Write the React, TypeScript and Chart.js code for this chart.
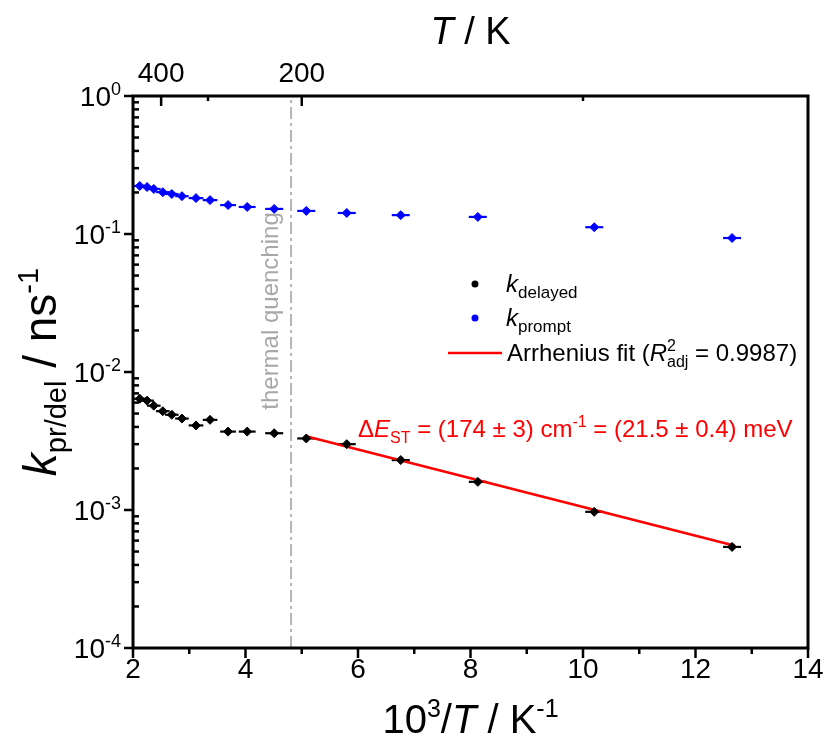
import React, { useEffect, useRef } from 'react';
import { Chart, registerables } from 'chart.js';
Chart.register(...registerables);

// ---- data ----
const invT = [2.12, 2.25, 2.37, 2.53, 2.69, 2.87, 3.12, 3.37, 3.69, 4.03, 4.51, 5.08, 5.80, 6.76, 8.13, 10.20, 12.65];
const invTErr = [0.12, 0.12, 0.12, 0.12, 0.12, 0.12, 0.13, 0.13, 0.14, 0.15, 0.16, 0.16, 0.16, 0.16, 0.16, 0.16, 0.16];
const kDelayed = [0.0064, 0.0062, 0.0057, 0.0052, 0.0049, 0.0046, 0.0041, 0.0045, 0.0037, 0.0037, 0.0036, 0.0033, 0.0030, 0.0023, 0.0016, 0.00097, 0.00054];
const kPrompt = [0.223, 0.219, 0.212, 0.201, 0.195, 0.188, 0.182, 0.176, 0.162, 0.157, 0.152, 0.147, 0.142, 0.137, 0.133, 0.112, 0.0935];
const fitX = [5.06, 12.70];
const fitY = [0.00344, 0.00055];
const quenchX = 4.81;
const xMajorTicks = [2, 4, 6, 8, 10, 12, 14];
const xMinorTicks = [3, 5, 7, 9, 11, 13];
const yDecadeExps = [0, -1, -2, -3, -4];
const topMajorT = [400, 200];
const topMinorT = [300, 100];

const SANS = '"Liberation Sans", Arial, sans-serif';
const F = (size: number, style = '') => `${style} ${size}px ${SANS}`.trim();

type Seg = { t: string; f: string; dy?: number; back?: boolean };

function richWidth(ctx: CanvasRenderingContext2D, segs: Seg[]) {
  let cursor = 0;
  let prevStart = 0;
  for (const s of segs) {
    ctx.font = s.f;
    const w = ctx.measureText(s.t).width;
    const x0 = s.back ? prevStart : cursor;
    if (!s.back) prevStart = x0;
    cursor = Math.max(cursor, x0 + w);
  }
  return cursor;
}

function drawRich(ctx: CanvasRenderingContext2D, segs: Seg[], x: number, y: number, align: 'left' | 'center' | 'right', color: string) {
  const total = richWidth(ctx, segs);
  let start = x;
  if (align === 'center') start = x - total / 2;
  if (align === 'right') start = x - total;
  let cursor = start;
  let prevStart = start;
  ctx.fillStyle = color;
  ctx.textAlign = 'left';
  for (const s of segs) {
    ctx.font = s.f;
    const w = ctx.measureText(s.t).width;
    const x0 = s.back ? prevStart : cursor;
    if (!s.back) prevStart = x0;
    ctx.fillText(s.t, x0, y + (s.dy || 0));
    cursor = Math.max(cursor, x0 + w);
  }
}

const errorBars = {
  id: 'errorBars',
  beforeDatasetsDraw(chart: any) {
    const { ctx, scales } = chart;
    const xs = scales.x;
    [0, 1].forEach((di) => {
      const meta = chart.getDatasetMeta(di);
      const color = chart.data.datasets[di].borderColor;
      ctx.save();
      ctx.strokeStyle = color;
      ctx.lineWidth = 2.2;
      meta.data.forEach((el: any, i: number) => {
        const x1 = xs.getPixelForValue(invT[i] - invTErr[i]);
        const x2 = xs.getPixelForValue(invT[i] + invTErr[i]);
        ctx.beginPath();
        ctx.moveTo(x1, el.y);
        ctx.lineTo(x2, el.y);
        ctx.stroke();
      });
      ctx.restore();
    });
  },
};

const decor = {
  id: 'decor',
  afterDraw(chart: any) {
    const { ctx, chartArea: a, scales } = chart;
    const xs = scales.x;
    const ys = scales.y;
    ctx.save();
    ctx.strokeStyle = '#000';
    ctx.lineCap = 'butt';

    // frame
    ctx.lineWidth = 3;
    ctx.strokeRect(a.left, a.top, a.right - a.left, a.bottom - a.top);

    ctx.lineWidth = 2.5;
    // bottom ticks (outward)
    xMajorTicks.forEach((v) => {
      const px = xs.getPixelForValue(v);
      ctx.beginPath(); ctx.moveTo(px, a.bottom); ctx.lineTo(px, a.bottom + 10); ctx.stroke();
    });
    xMinorTicks.forEach((v) => {
      const px = xs.getPixelForValue(v);
      ctx.beginPath(); ctx.moveTo(px, a.bottom); ctx.lineTo(px, a.bottom + 6); ctx.stroke();
    });
    // left ticks: majors outward, minors inward
    yDecadeExps.forEach((e) => {
      const py = ys.getPixelForValue(Math.pow(10, e));
      ctx.beginPath(); ctx.moveTo(a.left - 9, py); ctx.lineTo(a.left, py); ctx.stroke();
      if (e > -4) {
        for (let m = 2; m <= 9; m++) {
          const pm = ys.getPixelForValue(m * Math.pow(10, e - 1));
          ctx.beginPath(); ctx.moveTo(a.left, pm); ctx.lineTo(a.left + 6, pm); ctx.stroke();
        }
      }
    });
    // top ticks (inward), T axis
    topMajorT.forEach((T) => {
      const px = xs.getPixelForValue(1000 / T);
      ctx.beginPath(); ctx.moveTo(px, a.top); ctx.lineTo(px, a.top + 10); ctx.stroke();
    });
    topMinorT.forEach((T) => {
      const px = xs.getPixelForValue(1000 / T);
      ctx.beginPath(); ctx.moveTo(px, a.top); ctx.lineTo(px, a.top + 5); ctx.stroke();
    });

    // tick labels
    ctx.textBaseline = 'alphabetic';
    xMajorTicks.forEach((v) => {
      const px = xs.getPixelForValue(v);
      drawRich(ctx, [{ t: String(v), f: F(28) }], px, a.bottom + 30, 'center', '#000');
    });
    topMajorT.forEach((T) => {
      const px = xs.getPixelForValue(1000 / T);
      drawRich(ctx, [{ t: String(T), f: F(28) }], px, a.top - 14, 'center', '#000');
    });
    yDecadeExps.forEach((e) => {
      const py = ys.getPixelForValue(Math.pow(10, e));
      drawRich(ctx, [
        { t: '10', f: F(28) },
        { t: String(e), f: F(18), dy: -11 },
      ], a.left - 12, py + 10, 'right', '#000');
    });

    // axis titles
    const cx = (a.left + a.right) / 2;
    drawRich(ctx, [
      { t: 'T', f: F(38, 'italic') },
      { t: ' / K', f: F(38) },
    ], cx, 44, 'center', '#000');
    drawRich(ctx, [
      { t: '10', f: F(40) },
      { t: '3', f: F(25), dy: -16 },
      { t: '/', f: F(40) },
      { t: 'T', f: F(40, 'italic') },
      { t: ' / K', f: F(40) },
      { t: '-1', f: F(25), dy: -16 },
    ], cx, 733, 'center', '#000');
    ctx.save();
    ctx.translate(56, (a.top + a.bottom) / 2);
    ctx.rotate(-Math.PI / 2);
    drawRich(ctx, [
      { t: 'k', f: F(46, 'italic') },
      { t: 'pr/del', f: F(29), dy: 10 },
      { t: ' / ns', f: F(46) },
      { t: '-1', f: F(29), dy: -18 },
    ], 0, 0, 'center', '#000');
    ctx.restore();

    // thermal quenching label
    ctx.save();
    ctx.translate(xs.getPixelForValue(quenchX) - 20, 311);
    ctx.rotate(-Math.PI / 2);
    ctx.textBaseline = 'middle';
    drawRich(ctx, [{ t: 'thermal quenching', f: F(24) }], 0, 0, 'center', '#a8a8a8');
    ctx.restore();

    // legend
    ctx.textBaseline = 'alphabetic';
    const lgX = 475;
    const rows = [284, 318, 353];
    ctx.fillStyle = '#000';
    ctx.beginPath(); ctx.arc(lgX, rows[0], 3.5, 0, Math.PI * 2); ctx.fill();
    ctx.fillStyle = '#0000ff';
    ctx.beginPath(); ctx.arc(lgX, rows[1], 3.5, 0, Math.PI * 2); ctx.fill();
    drawRich(ctx, [
      { t: 'k', f: F(24, 'italic') },
      { t: 'delayed', f: F(17), dy: 6 },
    ], 506, rows[0] + 8, 'left', '#000');
    drawRich(ctx, [
      { t: 'k', f: F(24, 'italic') },
      { t: 'prompt', f: F(17), dy: 6 },
    ], 506, rows[1] + 8, 'left', '#000');
    ctx.strokeStyle = '#ff0000';
    ctx.lineWidth = 2.5;
    ctx.beginPath(); ctx.moveTo(448, rows[2]); ctx.lineTo(502, rows[2]); ctx.stroke();
    drawRich(ctx, [
      { t: 'Arrhenius fit (', f: F(24) },
      { t: 'R', f: F(24, 'italic') },
      { t: '2', f: F(16), dy: -10 },
      { t: 'adj', f: F(16), dy: 6, back: true },
      { t: ' = 0.9987)', f: F(24) },
    ], 507, rows[2] + 8, 'left', '#000');

    // activation energy annotation
    drawRich(ctx, [
      { t: '\u0394', f: F(24) },
      { t: 'E', f: F(24, 'italic') },
      { t: 'ST', f: F(16), dy: 6 },
      { t: ' = (174 \u00b1 3) cm', f: F(24) },
      { t: '-1', f: F(16), dy: -10 },
      { t: ' = (21.5 \u00b1 0.4) meV', f: F(24) },
    ], 358, 437, 'left', '#ff0000');

    ctx.restore();
  },
};

export default function App() {
  const ref = useRef<HTMLCanvasElement | null>(null);
  useEffect(() => {
    if (!ref.current) return;
    const chart = new Chart(ref.current, {
      type: 'scatter',
      data: {
        datasets: [
          {
            label: 'k_delayed',
            data: invT.map((x, i) => ({ x, y: kDelayed[i] })),
            borderColor: '#000000',
            backgroundColor: '#000000',
            pointStyle: 'rectRot',
            pointRadius: 4.5,
            borderWidth: 1,
            order: 0,
          },
          {
            label: 'k_prompt',
            data: invT.map((x, i) => ({ x, y: kPrompt[i] })),
            borderColor: '#0000ff',
            backgroundColor: '#0000ff',
            pointStyle: 'rectRot',
            pointRadius: 4.5,
            borderWidth: 1,
            order: 0,
          },
          {
            label: 'Arrhenius fit',
            type: 'line',
            data: fitX.map((x, i) => ({ x, y: fitY[i] })),
            borderColor: '#ff0000',
            backgroundColor: '#ff0000',
            borderWidth: 2.5,
            pointRadius: 0,
            showLine: true,
            order: 1,
          } as any,
          {
            label: 'quench',
            type: 'line',
            data: [{ x: quenchX, y: 1e-4 }, { x: quenchX, y: 1 }],
            borderColor: '#b4b4b4',
            borderWidth: 2,
            borderDash: [12, 4, 3, 4],
            pointRadius: 0,
            showLine: true,
            order: 2,
          } as any,
        ],
      },
      options: {
        responsive: false,
        devicePixelRatio: 1,
        animation: false,
        layout: { padding: { left: 133, top: 96, right: 19, bottom: 98 } },
        plugins: { legend: { display: false }, tooltip: { enabled: false } },
        scales: {
          x: { type: 'linear', min: 2, max: 14, display: false },
          y: { type: 'logarithmic', min: 1e-4, max: 1, display: false },
        },
      },
      plugins: [errorBars, decor],
    });
    return () => chart.destroy();
  }, []);
  return (
    <div style={{ position: 'fixed', left: 0, top: 0, width: 827, height: 746, background: '#fff' }}>
      <canvas ref={ref} width={827} height={746} style={{ display: 'block' }} />
    </div>
  );
}
